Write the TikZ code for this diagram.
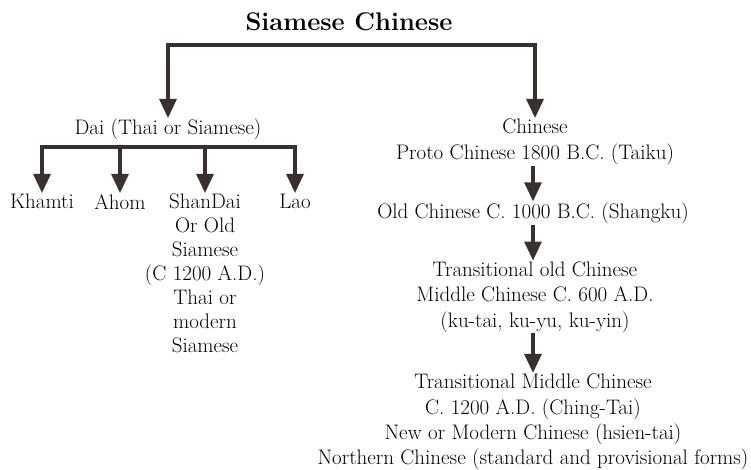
\documentclass[tikz,border=0pt]{standalone}
\usepackage{tikz}
\usetikzlibrary{arrows.meta}
\definecolor{stemc}{RGB}{58,48,45}

\begin{document}
\begin{tikzpicture}[
    x=1pt,y=1pt,
    lang/.style={align=center,inner sep=1pt,font=\fontsize{21}{25.3}\selectfont},
    title/.style={font=\fontsize{25.5}{30}\selectfont\bfseries},
    stem/.style={draw=stemc,line width=3.2pt},
    branch/.style={stem,-{Triangle[length=19pt,width=17pt]}},
]
    \useasboundingbox (0,0) rectangle (751,470);
    % Title and the two main branches
    \node[title] (root) at (349,448) {Siamese Chinese};
    \node[lang,anchor=north] (dai) at (168,352) {Dai (Thai or Siamese)};
    \node[lang,anchor=north] (chinese) at (535,352) {Chinese\\Proto Chinese 1800 B.C. (Taiku)};
    \coordinate (splitL) at (168,425);
    \coordinate (splitR) at (535,425);
    \draw[branch] (splitR) -- (splitL) -- (dai.north);
    \draw[branch] (splitL) -- (splitR) -- (chinese.north);

    % Dai languages
    \foreach \name/\x/\txt in {khamti/42/Khamti, ahom/120/Ahom, lao/295/Lao}
        \node[lang,anchor=north] (\name) at (\x,277) {\txt};
    \node[lang,anchor=north,font=\fontsize{21}{24}\selectfont] (shandai) at (205,277)
        {ShanDai\\Or Old\\Siamese\\(C 1200 A.D.)\\Thai or\\modern\\Siamese};
    \coordinate (barL) at (42,323);
    \coordinate (barR) at (295,323);
    \draw[branch] (barR) -- (barL) -- (khamti.north);
    \draw[branch] (barL) -- (barR) -- (lao.north);
    \foreach \name in {ahom,shandai}
        \draw[branch] (\name |- barL) -- (\name.north);

    % Chinese stages
    \node[lang] (old) at (533,257) {Old Chinese C. 1000 B.C. (Shangku)};
    \node[lang] (transold) at (535,173) {Transitional old Chinese\\Middle Chinese C. 600 A.D.\\(ku-tai, ku-yu, ku-yin)};
    \node[lang] (modern) at (533,48) {Transitional Middle Chinese\\C. 1200 A.D. (Ching-Tai)\\New or Modern Chinese (hsien-tai)\\Northern Chinese (standard and provisional forms)};
    \draw[branch] (chinese.south -| 533,0) -- (old.north -| 533,0);
    \draw[branch] (old.south -| 533,0) -- (transold.north -| 533,0);
    \draw[branch] (transold.south -| 533,0) -- (modern.north -| 533,0);
\end{tikzpicture}
\end{document}
